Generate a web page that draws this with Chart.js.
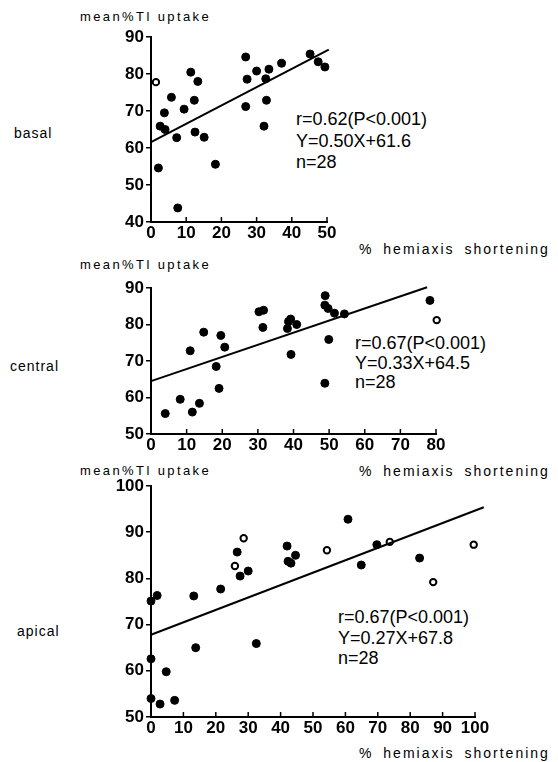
<!DOCTYPE html>
<html lang="en">
<head>
<meta charset="UTF-8">
<title>mean %Tl uptake vs % hemiaxis shortening</title>
<script src="https://cdn.jsdelivr.net/npm/chart.js"></script>
<style>
    body {
        margin: 0;
        width: 558px;
        height: 762px;
        position: relative;
        background: #fff;
        overflow: hidden;
        font-family: 'Liberation Sans', Arial, sans-serif;
        color: #000;
    }
    canvas { position: absolute; left: 0; }
    .lbl { position: absolute; white-space: nowrap; line-height: 1; }
    .ytitle { font-size: 13px; letter-spacing: 2.4px; }
    .xtitle { font-size: 14px; letter-spacing: 2px; word-spacing: 4px; }
    .side { font-size: 14px; letter-spacing: 1px; }
    .stats { font-size: 18px; }
</style>
</head>
<body>

<div class="lbl ytitle" style="left:80px; top:10px;">mean%Tl uptake</div>
<div class="lbl side" style="left:14px; top:126px;">basal</div>
<div class="lbl stats" style="left:296px; top:109px; line-height:21.5px;">r=0.62(P&lt;0.001)<br>Y=0.50X+61.6<br>n=28</div>
<div class="lbl xtitle" style="left:359px; top:242px;">% hemiaxis shortening</div>

<div class="lbl ytitle" style="left:80px; top:258px;">mean%Tl uptake</div>
<div class="lbl side" style="left:10px; top:359px;">central</div>
<div class="lbl stats" style="left:355px; top:334px; line-height:19.5px;">r=0.67(P&lt;0.001)<br>Y=0.33X+64.5<br>n=28</div>
<div class="lbl xtitle" style="left:359px; top:464px;">% hemiaxis shortening</div>

<div class="lbl ytitle" style="left:80px; top:464px;">mean%Tl uptake</div>
<div class="lbl side" style="left:17px; top:624px;">apical</div>
<div class="lbl stats" style="left:338px; top:607px; line-height:20.5px;">r=0.67(P&lt;0.001)<br>Y=0.27X+67.8<br>n=28</div>
<div class="lbl xtitle" style="left:359px; top:746px;">% hemiaxis shortening</div>

<canvas id="basalChart" width="558" height="245" style="top:0px"></canvas>
<canvas id="centralChart" width="558" height="205" style="top:250px"></canvas>
<canvas id="apicalChart" width="558" height="285" style="top:460px"></canvas>

<script>
    // basal segment
    const basalX = [2.1, 2.6, 3.8, 4.0, 5.8, 7.3, 7.6, 9.4, 11.3, 12.3, 12.5, 13.3, 15.1, 18.3,
                    26.9, 26.9, 27.3, 30.0, 32.1, 32.6, 32.8, 33.5, 37.1, 45.2, 47.5, 49.4];
    const basalY = [54.6, 65.9, 69.5, 65.0, 73.7, 62.8, 43.8, 70.5, 80.5, 72.9, 64.3, 78.0, 62.9, 55.6,
                    84.6, 71.2, 78.6, 80.8, 65.9, 78.7, 72.9, 81.3, 82.9, 85.4, 83.3, 81.9];
    const basalOpenX = [1.4];
    const basalOpenY = [77.8];
    const basalLineX = [0, 50.5];
    const basalLineY = [61.6, 86.6];

    // central segment
    const centralX = [4.0, 8.2, 11.0, 11.6, 13.6, 14.8, 18.3, 19.1, 19.6, 20.7, 30.3, 31.6, 31.4,
                      38.3, 38.6, 39.2, 39.3, 40.9, 48.9, 48.8, 48.8, 49.7, 49.9, 51.5, 54.3, 78.3];
    const centralY = [55.6, 59.5, 72.8, 56.0, 58.4, 77.9, 68.5, 62.5, 77.0, 73.8, 83.5, 83.9, 79.2,
                      78.9, 80.8, 81.5, 71.8, 80.0, 87.9, 63.9, 85.3, 84.4, 75.9, 83.1, 82.9, 86.6];
    const centralOpenX = [80.2];
    const centralOpenY = [81.2];
    const centralLineX = [0, 77.5];
    const centralLineY = [64.5, 90.2];

    // apical segment
    const apicalX = [0, 1.9, 0, 0, 2.8, 4.7, 7.3, 13.2, 13.8, 21.5, 26.6, 27.5, 30.0, 32.5,
                     42.0, 42.3, 43.2, 44.6, 60.8, 64.9, 69.7, 82.9];
    const apicalY = [75.1, 76.3, 62.6, 54.0, 52.8, 59.8, 53.6, 76.2, 65.0, 77.7, 85.7, 80.5, 81.6, 65.9,
                     87.0, 83.7, 83.3, 85.0, 92.8, 82.9, 87.3, 84.4];
    const apicalOpenX = [25.9, 28.6, 54.3, 73.7, 87.1, 99.6];
    const apicalOpenY = [82.7, 88.7, 86.1, 87.9, 79.2, 87.3];
    const apicalLineX = [0, 102.7];
    const apicalLineY = [67.8, 95.4];

    const tickFont = {family: "'Liberation Sans', Arial, sans-serif", size: 17, weight: 'bold'};

    Chart.defaults.animation = false;
    Chart.defaults.color = '#000';

    function pts(xs, ys) {
        return xs.map((x, i) => ({x: x, y: ys[i]}));
    }

    // small tick marks pointing up into the plot on the x axis
    const innerTicks = {
        id: 'innerTicks',
        afterDraw(chart) {
            const {ctx, chartArea, scales: {x}} = chart;
            ctx.save();
            ctx.strokeStyle = '#000';
            ctx.lineWidth = 1.5;
            x.ticks.forEach(t => {
                const px = x.getPixelForValue(t.value);
                ctx.beginPath();
                ctx.moveTo(px, chartArea.bottom);
                ctx.lineTo(px, chartArea.bottom - 5);
                ctx.stroke();
            });
            ctx.restore();
        }
    };

    // top/bottom/left/right = where the plot box sits inside the canvas
    function makePanel(id, p) {
        const canvas = document.getElementById(id);
        const W = canvas.width, H = canvas.height;
        new Chart(canvas, {
            type: 'scatter',
            data: {
                datasets: [
                    {
                        type: 'line',
                        data: pts(p.lineX, p.lineY),
                        borderColor: '#000',
                        borderWidth: 2,
                        pointRadius: 0,
                        clip: false
                    },
                    {
                        data: pts(p.xs, p.ys),
                        backgroundColor: '#000',
                        borderColor: '#000',
                        pointRadius: 4,
                        clip: false
                    },
                    {
                        data: pts(p.openX, p.openY),
                        backgroundColor: '#fff',
                        borderColor: '#000',
                        borderWidth: 2,
                        pointRadius: 3.2,
                        clip: false
                    }
                ]
            },
            options: {
                responsive: false,
                maintainAspectRatio: false,
                layout: {
                    padding: {top: p.top, right: W - p.right, bottom: 0, left: 0}
                },
                plugins: {legend: {display: false}, tooltip: {enabled: false}},
                scales: {
                    x: {
                        type: 'linear',
                        min: p.xMin, max: p.xMax,
                        afterFit: s => { s.height = H - p.bottom; },
                        ticks: {
                            stepSize: 10, padding: 1, autoSkip: false,
                            maxRotation: 0, minRotation: 0,
                            font: tickFont, color: '#000'
                        },
                        grid: {display: false, drawTicks: false},
                        border: {display: true, color: '#000', width: 2}
                    },
                    y: {
                        min: p.yMin, max: p.yMax,
                        afterFit: s => { s.width = p.left; },
                        ticks: {stepSize: 10, padding: 2, font: tickFont, color: '#000'},
                        grid: {drawOnChartArea: false, drawTicks: true, tickLength: 5, color: '#000', lineWidth: 1.5},
                        border: {display: true, color: '#000', width: 2}
                    }
                }
            },
            plugins: [innerTicks]
        });
    }

    makePanel('basalChart', {
        xs: basalX, ys: basalY, openX: basalOpenX, openY: basalOpenY,
        lineX: basalLineX, lineY: basalLineY,
        xMin: 0, xMax: 50, yMin: 40, yMax: 90,
        left: 151, right: 327, top: 37, bottom: 222
    });

    makePanel('centralChart', {
        xs: centralX, ys: centralY, openX: centralOpenX, openY: centralOpenY,
        lineX: centralLineX, lineY: centralLineY,
        xMin: 0, xMax: 80, yMin: 50, yMax: 90,
        left: 151, right: 436, top: 38, bottom: 184
    });

    makePanel('apicalChart', {
        xs: apicalX, ys: apicalY, openX: apicalOpenX, openY: apicalOpenY,
        lineX: apicalLineX, lineY: apicalLineY,
        xMin: 0, xMax: 100, yMin: 50, yMax: 100,
        left: 151, right: 475, top: 26, bottom: 257
    });
</script>

</body>
</html>
